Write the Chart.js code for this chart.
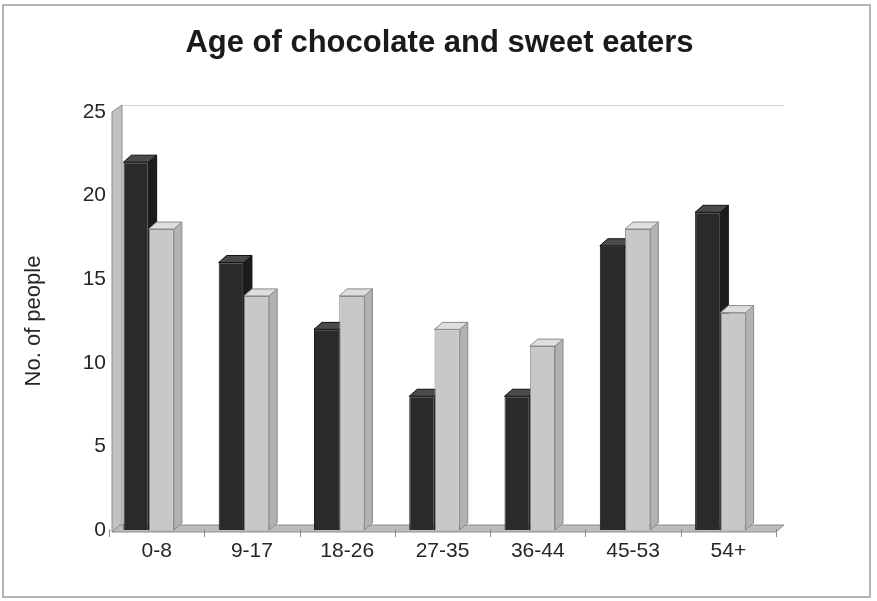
<!DOCTYPE html>
<html>
<head>
<meta charset="utf-8">
<script src="https://cdn.jsdelivr.net/npm/chart.js@4/dist/chart.umd.min.js"></script>
<style>
  html, body { margin: 0; padding: 0; background: #ffffff; }
  #wrap { width: 877px; height: 601px; }
</style>
</head>
<body>
<div id="wrap"><canvas id="c" width="877" height="601"></canvas></div>
<script>
// Age groups and number of people in each group
const ageGroups = ['0-8', '9-17', '18-26', '27-35', '36-44', '45-53', '54+'];
const chocolateEaters = [22, 16, 12, 8, 8, 17, 19];
const sweetEaters = [18, 14, 14, 12, 11, 18, 13];
const yTicks = [0, 5, 10, 15, 20, 25];

const FONT = 'Liberation Sans, Arial, Helvetica, sans-serif';
const DEPTH_X = 8;
const DEPTH_Y = 7;

const faceColors = [
  { top: '#4a4a4a', side: '#1c1c1c', edge: '#111111' },
  { top: '#dedede', side: '#b2b2b2', edge: '#8a8a8a' }
];

function poly(ctx, pts, fill, stroke) {
  ctx.beginPath();
  ctx.moveTo(pts[0][0], pts[0][1]);
  for (let i = 1; i < pts.length; i++) ctx.lineTo(pts[i][0], pts[i][1]);
  ctx.closePath();
  ctx.fillStyle = fill;
  ctx.fill();
  if (stroke) { ctx.strokeStyle = stroke; ctx.lineWidth = 1; ctx.stroke(); }
}

// Frame, wall, floor and the depth faces of every column
const depthPlugin = {
  id: 'depth',
  afterLayout(chart) {
    // value labels sit slightly over the side wall
    const y = chart.scales.y;
    y.right = chart.chartArea.left + 5;
  },
  beforeDraw(chart) {
    const ctx = chart.ctx;
    ctx.save();
    ctx.fillStyle = '#ffffff';
    ctx.fillRect(0, 0, chart.width, chart.height);
    ctx.strokeStyle = '#b4b4b4';
    ctx.lineWidth = 2;
    ctx.strokeRect(3, 5, 867, 592);
    ctx.restore();
  },
  beforeDatasetsDraw(chart) {
    const ctx = chart.ctx;
    const a = chart.chartArea;
    const b = a.bottom;
    const wx = a.left + 11;
    ctx.save();
    // back wall top edge
    ctx.strokeStyle = '#d4d4d4';
    ctx.lineWidth = 1;
    ctx.beginPath();
    ctx.moveTo(wx + DEPTH_X + 2, a.top - DEPTH_Y + 0.5);
    ctx.lineTo(a.right + 16, a.top - DEPTH_Y + 0.5);
    ctx.stroke();
    // side wall
    poly(ctx, [[wx, b + 2], [wx, a.top], [wx + DEPTH_X + 2, a.top - DEPTH_Y], [wx + DEPTH_X + 2, b - 5]], '#c2c2c2', '#8c8c8c');
    // floor
    poly(ctx, [[wx, b + 2], [a.right + 8, b + 2], [a.right + 8 + DEPTH_X, b - 5], [wx + DEPTH_X, b - 5]], '#bcbcbc', '#8c8c8c');
    // category tick marks under the floor
    ctx.strokeStyle = '#8c8c8c';
    for (let i = 0; i <= ageGroups.length; i++) {
      const px = Math.round(a.left + (a.right - a.left) * i / ageGroups.length + DEPTH_X);
      ctx.beginPath();
      ctx.moveTo(px + 0.5, b - 1);
      ctx.lineTo(px + 0.5, b + 7);
      ctx.stroke();
    }
    // depth faces
    chart.data.datasets.forEach((ds, di) => {
      const meta = chart.getDatasetMeta(di);
      const col = faceColors[di];
      meta.data.forEach(bar => {
        const p = bar.getProps(['x', 'y', 'base', 'width'], true);
        const l = p.x - p.width / 2, r = p.x + p.width / 2;
        poly(ctx, [[r, p.y], [r + DEPTH_X, p.y - DEPTH_Y], [r + DEPTH_X, p.base - DEPTH_Y], [r, p.base]], col.side, col.edge);
        poly(ctx, [[l, p.y], [r, p.y], [r + DEPTH_X, p.y - DEPTH_Y], [l + DEPTH_X, p.y - DEPTH_Y]], col.top, col.edge);
      });
    });
    ctx.restore();
  }
};

new Chart(document.getElementById('c'), {
  type: 'bar',
  data: {
    labels: ageGroups,
    datasets: [
      { label: 'Chocolate', data: chocolateEaters, backgroundColor: '#2a2a2a', borderColor: '#151515', borderWidth: 1 },
      { label: 'Sweets', data: sweetEaters, backgroundColor: '#c8c8c8', borderColor: '#8a8a8a', borderWidth: 1 }
    ]
  },
  options: {
    responsive: false,
    animation: false,
    events: [],
    layout: { padding: { left: 2, right: 0, top: 0, bottom: 8 } },
    datasets: { bar: { categoryPercentage: 0.53, barPercentage: 1.0 } },
    plugins: {
      legend: { display: false },
      tooltip: { enabled: false },
      title: {
        display: true,
        text: 'Age of chocolate and sweet eaters',
        color: '#1a1a1a',
        font: { family: FONT, size: 31, weight: 'bold' },
        padding: { top: 25, bottom: 49.8 }
      }
    },
    scales: {
      x: {
        grid: { display: false, drawTicks: false },
        border: { display: false },
        ticks: { color: '#262626', padding: 9, labelOffset: 8, font: { family: FONT, size: 21 } },
        afterFit(scale) { scale.height = 63; }
      },
      y: {
        min: yTicks[0],
        max: yTicks[yTicks.length - 1],
        afterBuildTicks(scale) { scale.ticks = yTicks.map(v => ({ value: v })); },
        grid: { display: false, drawTicks: false },
        border: { display: false },
        ticks: { color: '#262626', padding: 0, font: { family: FONT, size: 21 } },
        title: {
          display: true,
          text: 'No. of people',
          color: '#262626',
          padding: { top: 19, bottom: 0 },
          font: { family: FONT, size: 22 }
        },
        afterFit(scale) { scale.width = 99; }
      },
      yRight: {
        position: 'right',
        display: true,
        min: 0,
        max: 25,
        grid: { display: false, drawTicks: false },
        border: { display: false },
        ticks: { display: false },
        afterFit(scale) { scale.width = 109; }
      }
    }
  },
  plugins: [depthPlugin]
});
</script>
</body>
</html>
